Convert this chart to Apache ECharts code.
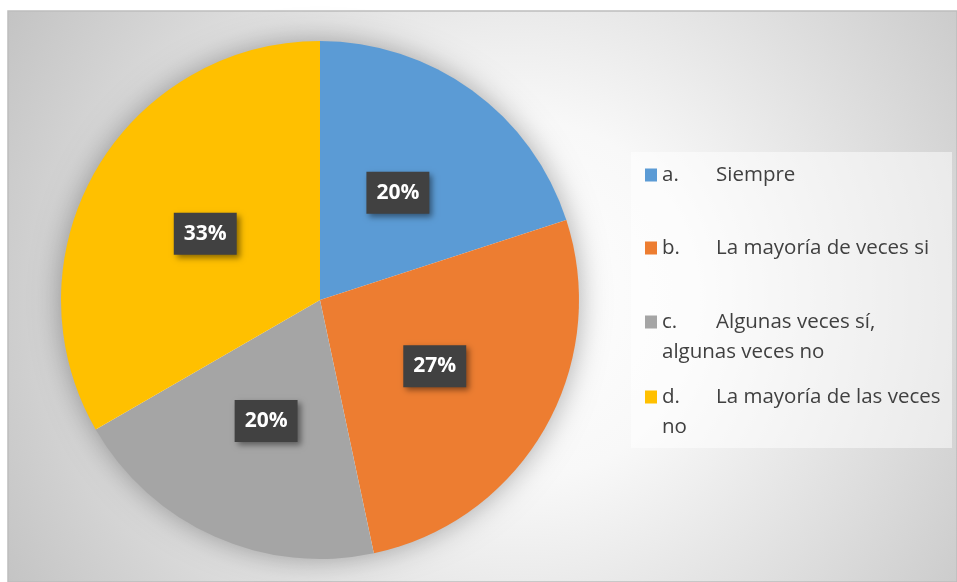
<!DOCTYPE html>
<html>
<head>
<meta charset="utf-8">
<script src="https://cdn.jsdelivr.net/npm/echarts@6/dist/echarts.min.js"></script>
<style>
html,body{margin:0;padding:0;background:#fff;}
#chart{width:957px;height:582px;}
</style>
</head>
<body>
<div id="chart"></div>
<script>
// ---- data ----
const letters = ['a.', 'b.', 'c.', 'd.'];
const categories = ['Siempre', 'La mayoría de veces si', 'Algunas veces sí, algunas veces no', 'La mayoría de las veces no'];
const counts = [3, 4, 3, 5];
const legendLines = [
  ['Siempre'],
  ['La mayoría de veces si'],
  ['Algunas veces sí,', 'algunas veces no'],
  ['La mayoría de las veces', 'no']
];

// ---- style ----
const palette = ['#5B9BD5', '#ED7D31', '#A5A5A5', '#FFC000'];
const legendFirstLineY = [175, 248, 322, 397];
const LINE_H = 30;
const FS = 20.5;
const FONT = '"Open Sans", "Noto Sans", sans-serif';

const names = categories.map((c, i) => letters[i] + ' ' + c);
const total = counts.reduce((a, b) => a + b, 0);

const chart = echarts.init(document.getElementById('chart'), null, {renderer: 'canvas'});

const legends = names.map((n, i) => {
  const lines = legendLines[i];
  const multi = lines.length > 1;
  let txt = '{l|' + letters[i] + '}{t|' + lines[0] + '}';
  if (multi) txt = '{s| }\n' + txt + '\n{t|' + lines.slice(1).join('\n') + '}';
  return {
    data: [n],
    orient: 'vertical',
    left: 645,
    top: legendFirstLineY[i] - (multi ? LINE_H * 1.5 : LINE_H * 0.5),
    padding: 0,
    itemWidth: 12,
    itemHeight: 13,
    icon: 'rect',
    selectedMode: false,
    formatter: () => txt,
    textStyle: {
      fontFamily: FONT,
      fontSize: FS,
      color: '#404040',
      lineHeight: LINE_H,
      rich: {
        s: {fontSize: FS, lineHeight: LINE_H},
        l: {width: 54, fontSize: FS, lineHeight: LINE_H, fontFamily: FONT, color: '#404040'},
        t: {fontSize: FS, lineHeight: LINE_H, fontFamily: FONT, color: '#404040'}
      }
    }
  };
});

const option = {
  animation: false,
  graphic: [
    {
      type: 'rect', z: -10, silent: true,
      shape: {x: 8, y: 11, width: 949, height: 571},
      style: {
        fill: new echarts.graphic.RadialGradient(520, 300, 600, [
          {offset: 0, color: '#ffffff'},
          {offset: 0.3, color: '#f8f8f8'},
          {offset: 1, color: '#c2c2c2'}
        ], true),
        stroke: '#bdbdbd', lineWidth: 1.5
      }
    },
    {
      type: 'rect', z: -5, silent: true,
      shape: {x: 631, y: 152, width: 321, height: 296},
      style: {fill: 'rgba(255,255,255,0.5)'}
    }
  ],
  legend: legends,
  series: [
    {
      type: 'pie', name: 'shadow', silent: true, z: 1,
      center: [320, 300], radius: 258,
      data: [{value: total, name: '_shadow'}],
      itemStyle: {color: '#ffffff', shadowBlur: 30, shadowColor: 'rgba(0,0,0,0.35)'},
      label: {show: false}, labelLine: {show: false},
      emphasis: {disabled: true}
    },
    {
      type: 'pie', z: 2,
      center: [320, 300], radius: 259,
      startAngle: 90, clockwise: true,
      data: names.map((n, i) => ({name: n, value: counts[i], itemStyle: {color: palette[i]}})),
      itemStyle: {borderWidth: 0},
      emphasis: {disabled: true},
      labelLine: {show: false},
      label: {
        show: true,
        position: 'inside',
        formatter: p => Math.round(p.percent) + '%',
        fontFamily: FONT,
        fontWeight: 'bold',
        fontSize: 21,
        lineHeight: 22,
        color: '#ffffff',
        backgroundColor: '#414141',
        padding: [10, 10, 10, 10],
        shadowColor: 'rgba(0,0,0,0.45)',
        shadowBlur: 6,
        shadowOffsetX: 3,
        shadowOffsetY: 3
      }
    }
  ]
};
chart.setOption(option);
</script>
</body>
</html>
